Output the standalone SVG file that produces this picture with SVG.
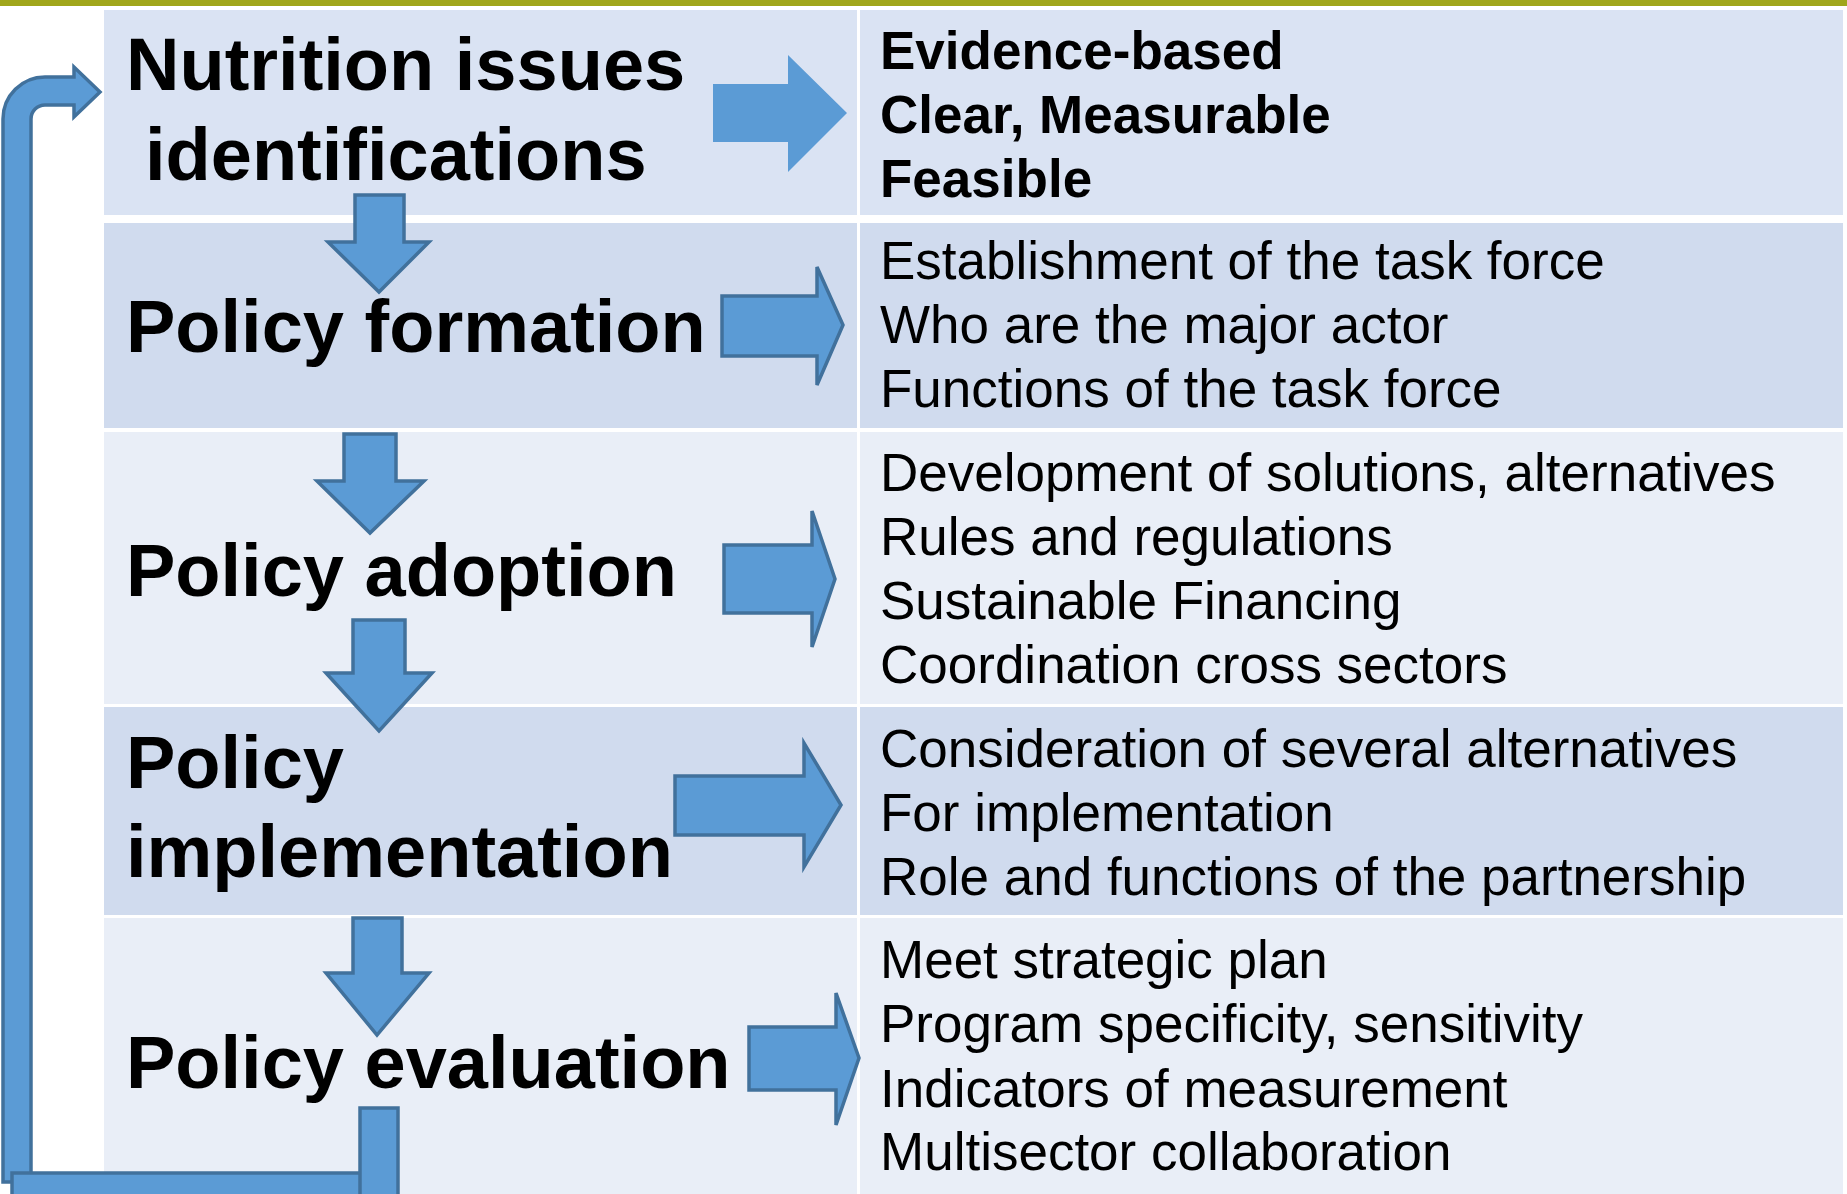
<svg xmlns="http://www.w3.org/2000/svg" width="1847" height="1194" viewBox="0 0 1847 1194">
<style>
.stage{font-family:"Liberation Sans",Arial,sans-serif;font-weight:bold;font-size:74px;fill:#000}
.det{font-family:"Liberation Sans",Arial,sans-serif;font-size:53px;fill:#000}
.detb{font-family:"Liberation Sans",Arial,sans-serif;font-size:53px;font-weight:bold;fill:#000}
.ra{fill:#5B9BD5;stroke:#41719C;stroke-width:3.5;stroke-linejoin:miter}
.flat{fill:#5B9BD5}
.r1{fill:#DAE3F3}.r2{fill:#D0DBEE}.r3{fill:#E9EEF7}
</style>
<rect x="0" y="0" width="1847" height="1194" fill="#FFFFFF"/>
<rect x="0" y="0" width="1847" height="6" fill="#A0A61B"/>
<g id="row1">
<rect class="r1" x="104" y="10" width="753" height="205"/>
<rect class="r1" x="860" y="10" width="983" height="205"/>
<text class="stage" x="126" y="90">Nutrition issues</text>
<text class="stage" x="145" y="180">identifications</text>
<text class="detb" x="880" y="69">Evidence-based</text>
<text class="detb" x="880" y="133">Clear, Measurable</text>
<text class="detb" x="880" y="197">Feasible</text>
</g>
<g id="row2">
<rect class="r2" x="104" y="223" width="753" height="205"/>
<rect class="r2" x="860" y="223" width="983" height="205"/>
<text class="stage" x="126" y="352">Policy formation</text>
<text class="det" x="880" y="279">Establishment of the task force</text>
<text class="det" x="880" y="343">Who are the major actor</text>
<text class="det" x="880" y="407">Functions of the task force</text>
</g>
<g id="row3">
<rect class="r3" x="104" y="432" width="753" height="272"/>
<rect class="r3" x="860" y="432" width="983" height="272"/>
<text class="stage" x="126" y="596">Policy adoption</text>
<text class="det" x="880" y="491">Development of solutions, alternatives</text>
<text class="det" x="880" y="555">Rules and regulations</text>
<text class="det" x="880" y="619">Sustainable Financing</text>
<text class="det" x="880" y="683">Coordination cross sectors</text>
</g>
<g id="row4">
<rect class="r2" x="104" y="707" width="753" height="208"/>
<rect class="r2" x="860" y="707" width="983" height="208"/>
<text class="stage" x="126" y="788">Policy</text>
<text class="stage" x="126" y="877">implementation</text>
<text class="det" x="880" y="767">Consideration of several alternatives</text>
<text class="det" x="880" y="831">For implementation</text>
<text class="det" x="880" y="895">Role and functions of the partnership</text>
</g>
<g id="row5">
<rect class="r3" x="104" y="918" width="753" height="276"/>
<rect class="r3" x="860" y="918" width="983" height="276"/>
<text class="stage" x="126" y="1088">Policy evaluation</text>
<text class="det" x="880" y="978">Meet strategic plan</text>
<text class="det" x="880" y="1042">Program specificity, sensitivity</text>
<text class="det" x="880" y="1107">Indicators of measurement</text>
<text class="det" x="880" y="1170">Multisector collaboration</text>
</g>
<g id="connectors">
<path class="flat" d="M713 84 H788 V55 L847 113 L788 172 V142 H713 Z"/>
<path class="ra" d="M722 296 H817 V267 L843 325 L817 385 V356 H722 Z"/>
<path class="ra" d="M724 545 H812 V511 L835 579 L812 647 V613 H724 Z"/>
<path class="ra" d="M675 776 H804 V743 L841 805 L804 867 V835 H675 Z"/>
<path class="ra" d="M749 1027 H836 V993 L859 1058 L836 1125 V1090 H749 Z"/>
<path class="ra" d="M355 195 H404 V242 H429 L379 292 L328 242 H355 Z"/>
<path class="ra" d="M344 434 H396 V481 H424 L370 533 L317 481 H344 Z"/>
<path class="ra" d="M353 620 H405 V673 H432 L379 731 L326 673 H353 Z"/>
<path class="ra" d="M353 918 H402 V973 H429 L377 1035 L326 973 H353 Z"/>
<path class="ra" d="M3 1182 V119 A42 42 0 0 1 45 77 H74 V67 L100 92 L74 117 V105 H45 A14 14 0 0 0 31 119 V1182 Z"/>
<rect class="ra" x="12" y="1173" width="350" height="30"/>
<rect class="ra" x="360" y="1108" width="38" height="95"/>
</g>
</svg>
